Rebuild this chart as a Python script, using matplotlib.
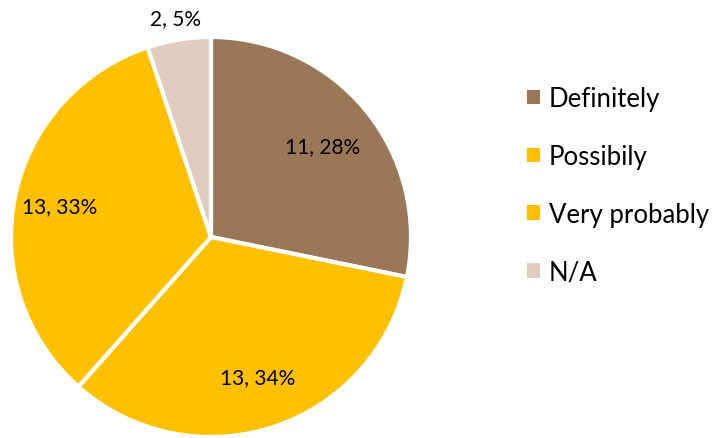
import matplotlib
matplotlib.use("Agg")
import matplotlib.pyplot as plt
from matplotlib.patches import Patch
import numpy as np

plt.rcParams["font.family"] = ["Lato", "DejaVu Sans"]

categories = ["Definitely", "Possibily", "Very probably", "N/A"]
counts = [11, 13, 13, 2]
labels = ["11, 28%", "13, 34%", "13, 33%", "2, 5%"]
colors = ["#9A7857", "#FFC000", "#FFC000", "#DFCCBE"]

W, H = 718, 439
fig = plt.figure(figsize=(W / 100, H / 100), dpi=100)
ax = fig.add_axes([0, 0, 1, 1])

cx, cy, R = 211, H - 238, 200
wedges, _ = ax.pie(counts, colors=colors, startangle=90, counterclock=False,
                   center=(cx, cy), radius=R, frame=True,
                   wedgeprops=dict(edgecolor="white", linewidth=3))
ax.set_xlim(0, W)
ax.set_ylim(0, H)
ax.set_aspect("equal")
ax.axis("off")

# label radii as fraction of radius (N/A sits outside)
label_r = [0.72, 0.74, 0.77, 1.11]
total = sum(counts)
start = 90.0
for c, lab, lr in zip(counts, labels, label_r):
    span = 360.0 * c / total
    mid = np.deg2rad(start - span / 2)
    start -= span
    ax.text(cx + lr * R * np.cos(mid), cy + lr * R * np.sin(mid), lab,
            ha="center", va="center", fontsize=15, color="#000000")

handles = [Patch(facecolor=col, edgecolor="none") for col in colors]
leg = ax.legend(handles, categories, loc="upper left",
                bbox_to_anchor=(504 / W, 1 - 64 / H), frameon=False,
                fontsize=18.5, handlelength=0.5, handleheight=0.5,
                handletextpad=0.35, labelspacing=1.28)

fig.savefig("out.png", dpi=100)
